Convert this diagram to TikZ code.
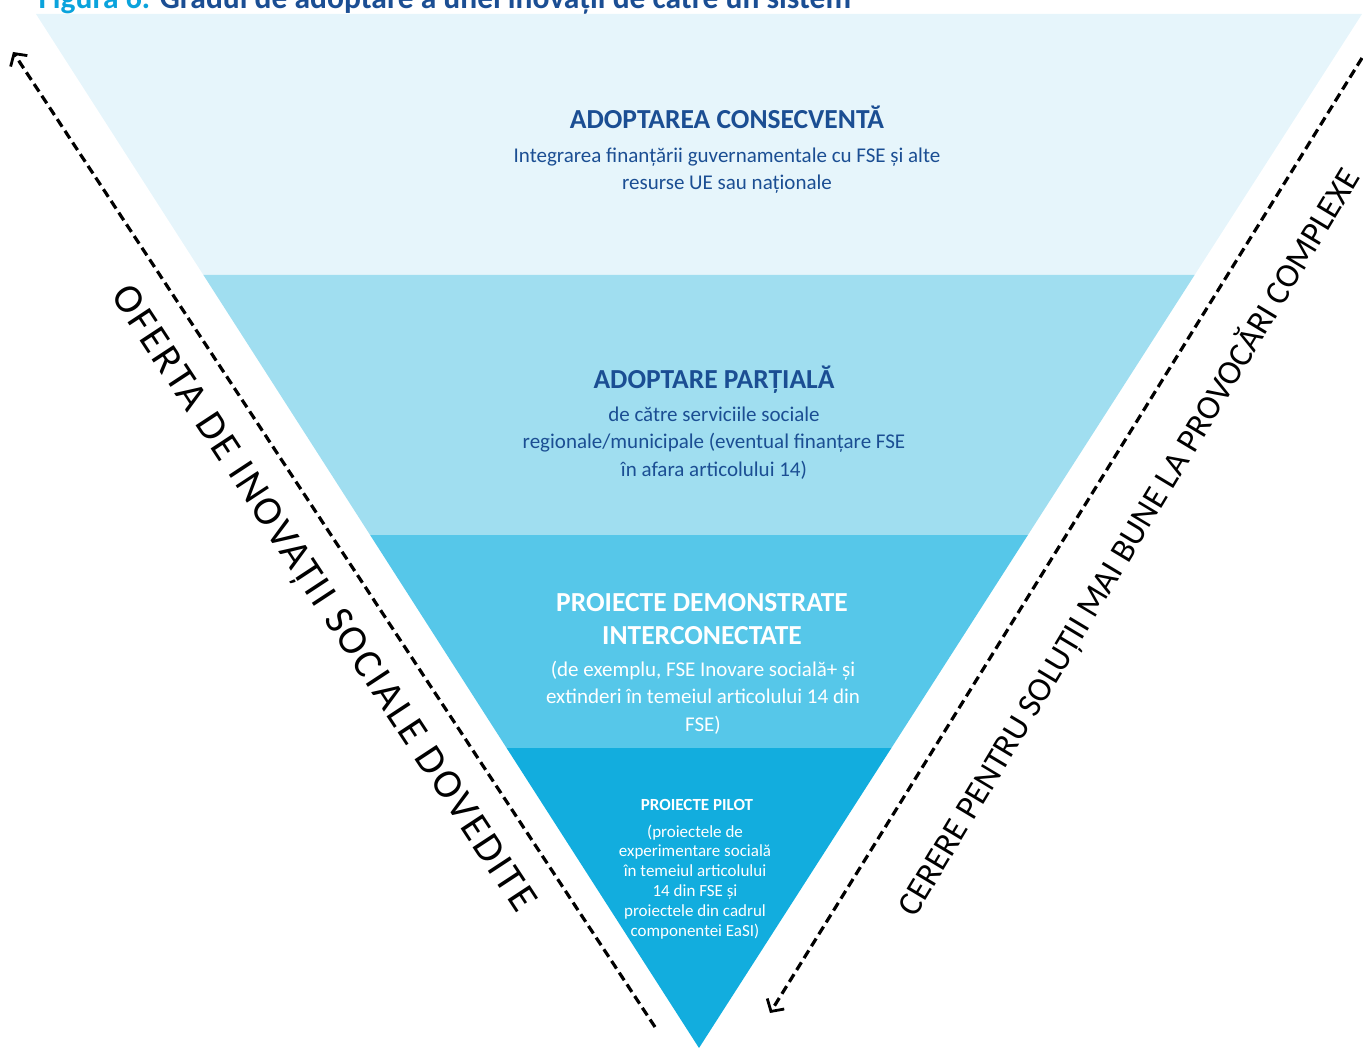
\documentclass[tikz,border=0pt]{standalone}
\usepackage{fontspec}
\setmainfont{Carlito}
\newfontfamily\sidefont[LetterSpace=6]{Carlito}
\usepackage{tkz-euclide}
\usetikzlibrary{arrows.meta}
\definecolor{layerA}{HTML}{E6F5FB}
\definecolor{layerB}{HTML}{A0DEF0}
\definecolor{layerC}{HTML}{56C7E9}
\definecolor{layerD}{HTML}{12ADDE}
\definecolor{navy}{HTML}{1B4E93}
\definecolor{figcyan}{HTML}{0AA3DC}

\begin{document}
\begin{tikzpicture}[x=1pt,y=-1pt,
    head/.style={font=\bfseries\fontsize{27.5}{33}\selectfont,align=center,anchor=base},
    body/.style={font=\fontsize{21}{27.5}\selectfont,align=center,anchor=base},
    side/.style={font=\sidefont\fontsize{41}{44}\selectfont,anchor=center},
    flow/.style={line width=3.2pt,dash pattern=on 9pt off 5pt,
      -{Straight Barb[length=9pt,width=20pt,line width=2.8pt]}}]
                \useasboundingbox (0,0) rectangle (1363,1048);
                % corners of the funnel and of its bands
                \tkzDefPoints{36/14/A,1362/14/B,699/1048/C}
                \tkzDefPoints{203.4/275/D,1194.6/275/E,370.1/535/F,1027.9/535/G,506.6/748/H,891.4/748/K}
                \tkzFillPolygon[color=layerA](A,B,E,D)
                \tkzFillPolygon[color=layerB](D,E,G,F)
                \tkzFillPolygon[color=layerC](F,G,K,H)
                \tkzFillPolygon[color=layerD](H,K,C)
                % title, cut by the page edge
                \node[anchor=base west,font=\bfseries\fontsize{31.5}{34}\selectfont] (title) at (35,9)
                  {\textcolor{figcyan}{Figura 6:} \textcolor{navy}{Gradul de adoptare a unei inovații de către un sistem}};
                % band texts (multi-line nodes sit on the last line)
                \node[head,text=navy] (full) at (727,129) {ADOPTAREA CONSECVENTĂ};
                \node[body,text=navy] (fulltxt) at (727,190)
                  {Integrarea finanțării guvernamentale cu FSE și alte\\resurse UE sau naționale};
                \node[head,text=navy] (part) at (714,389) {ADOPTARE PARȚIALĂ};
                \node[body,text=navy] (parttxt) at (714,476)
                  {de către serviciile sociale\\regionale/municipale (eventual finanțare FSE\\în afara articolului 14)};
                \node[head,text=white] (demo) at (702,644) {PROIECTE DEMONSTRATE\\INTERCONECTATE};
                \node[body,text=white] (demotxt) at (703,731)
                  {(de exemplu, FSE Inovare socială+ și\\extinderi în temeiul articolului 14 din\\FSE)};
                \node[head,text=white,font=\bfseries\fontsize{17}{18}\selectfont] (pilot) at (697,810) {PROIECTE PILOT};
                \node[body,text=white,font=\fontsize{17}{19.8}\selectfont] (pilottxt) at (695,936)
                  {(proiectele de\\experimentare socială\\în temeiul articolului\\14 din FSE și\\proiectele din cadrul\\componentei EaSI)};
                % side arrows
                \tkzDefPoints{655/1027/l1,13/52/l2,1362/58/r1,770/1013/r2}
                \draw[flow] (l1) -- (l2);
                \draw[flow] (r1) -- (r2);
                \node[side,rotate=-56.7] (offer) at (322,600) {OFERTA DE INOVAȚII SOCIALE DOVEDITE};
                \node[side,rotate=59,font=\fontsize{34}{36}\selectfont] (demand) at (1129,542)
                  {CERERE PENTRU SOLUȚII MAI BUNE LA PROVOCĂRI COMPLEXE};
            \end{tikzpicture}
\end{document}
